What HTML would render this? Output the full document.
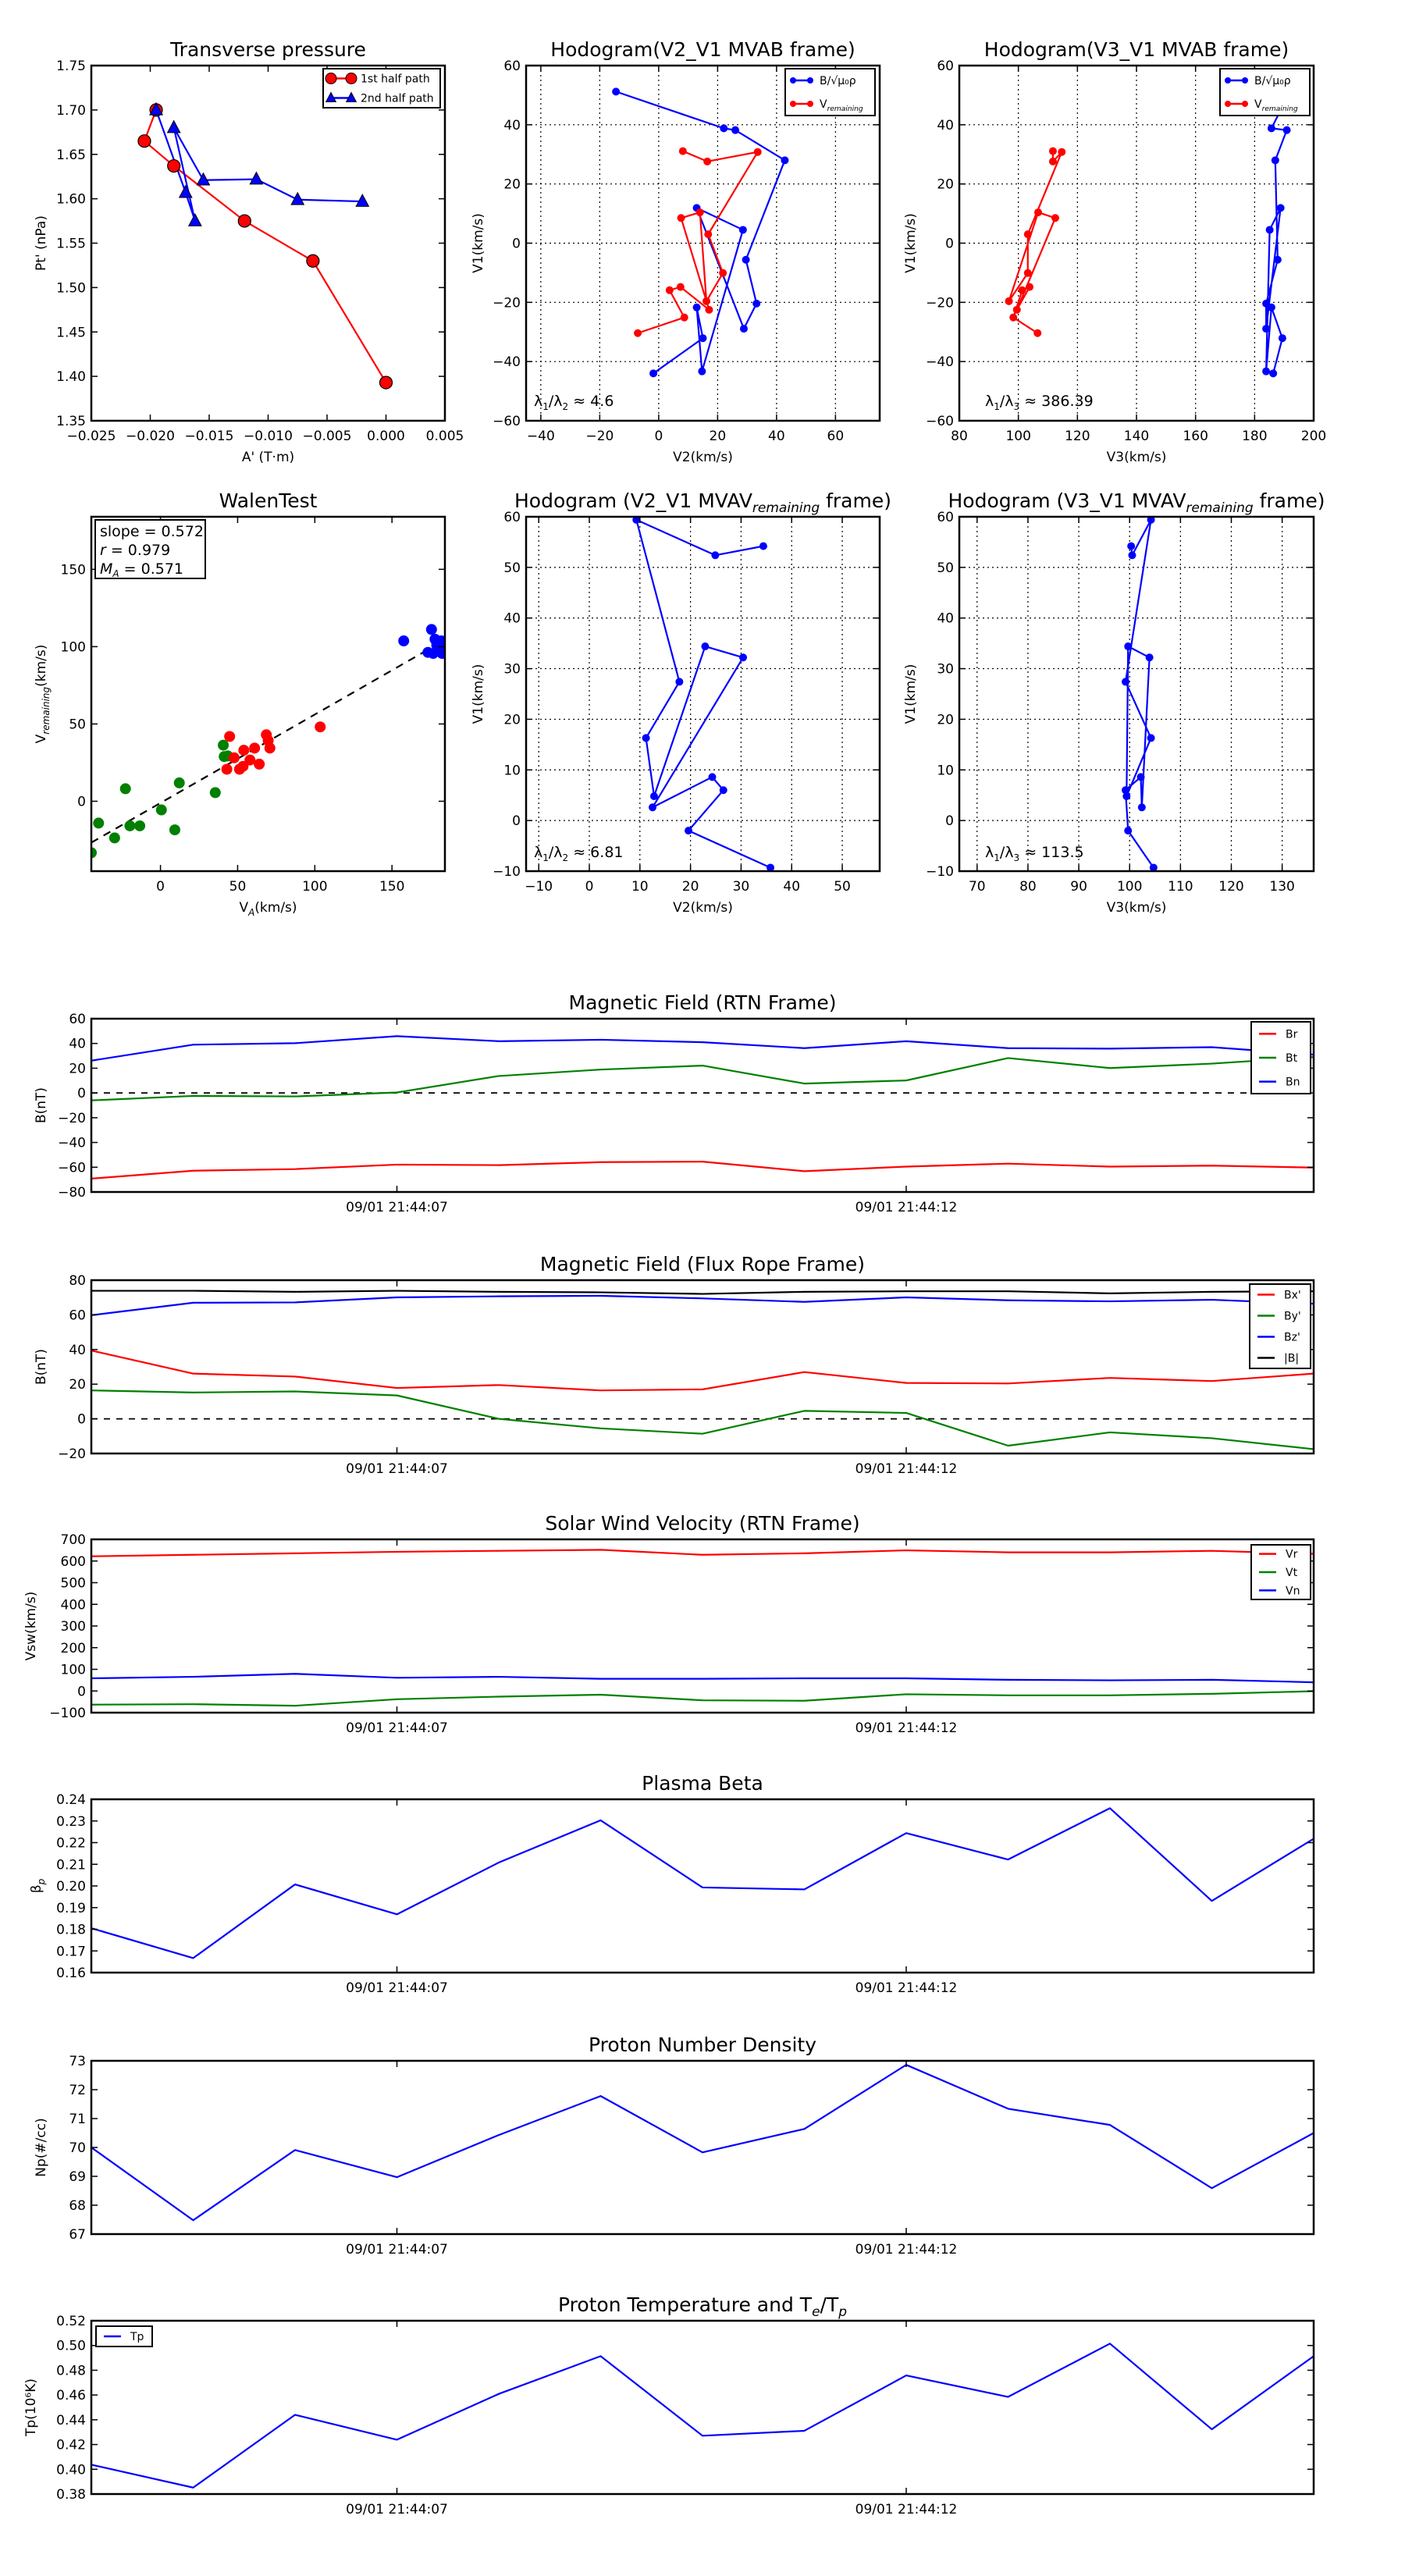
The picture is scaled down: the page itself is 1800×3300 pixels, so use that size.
<!DOCTYPE html>
<html><head><meta charset="utf-8">
<style>
html,body{margin:0;padding:0;background:#fff;}
svg{display:block;font-family:"DejaVu Sans","Liberation Sans",sans-serif;}
</style></head>
<body>
<svg id="fig" xmlns="http://www.w3.org/2000/svg" width="1800" height="3300" viewBox="0 0 1800 3300"></svg>
<script>
// ---------- DATA ----------
// Transverse pressure
const tpA1 = [-0.0195,-0.0205,-0.018,-0.012,-0.0062,0.0];
const tpP1 = [1.700,1.665,1.637,1.575,1.530,1.393];
const tpA2 = [-0.0195,-0.017,-0.0162,-0.018,-0.0155,-0.011,-0.0075,-0.002];
const tpP2 = [1.700,1.607,1.575,1.680,1.621,1.622,1.599,1.597];
// Hodogram MVAB (B)
const hbV1 = [51.2,38.8,38.2,28,-5.6,-20.4,-28.9,11.9,4.5,-43.3,-21.7,-32.1,-44];
const hbV2 = [-14.5,22.1,26,42.8,29.6,33.2,28.9,12.9,28.6,14.7,12.9,15,-1.8];
const hbV3 = [192,185.7,190.9,187,187.8,183.9,183.9,188.8,185.1,183.9,185.7,189.4,186.3];
// Hodogram MVAB (V remaining)
const hvV1 = [31.1,27.6,30.8,3,-10.1,-19.6,10.4,8.5,-22.5,-14.8,-15.9,-25.1,-30.4];
const hvV2 = [8.2,16.5,33.6,16.8,21.8,16.2,14,7.6,17.1,7.4,3.7,8.7,-7.1];
const hvV3 = [111.7,111.7,114.7,103.2,103.2,96.8,106.7,112.5,99.5,103.8,101.3,98.3,106.5];
// Hodogram MVAV remaining
const hrV1 = [54.2,52.4,59.4,27.4,16.3,4.8,34.4,32.2,2.6,8.6,6,-2,-9.3];
const hrV2 = [34.4,24.9,9.3,17.8,11.2,12.8,22.9,30.4,12.5,24.3,26.5,19.6,35.8];
const hrV3 = [100.3,100.5,104.2,99.2,104.2,99.4,99.7,103.9,102.4,102.2,99.2,99.7,104.7];
// Walen test
const wgX = [-40.1,-29.7,-22.7,-19.8,-13.4,0.6,9.3,12.2,35.5,40.7,41.3,43.6,-44.8];
const wgY = [-14.1,-23.7,8.1,-15.9,-15.9,-5.6,-18.5,11.9,5.6,36.3,28.9,29.3,-33.3];
const wrX = [44.8,43,47.7,51.2,53.5,54,58,61,64,68.6,69.8,70.9,103.5];
const wrY = [41.9,20.7,28.1,20.7,22.6,33,26.7,34.4,24,43,39.3,34.4,48.1];
const wbX = [157.6,175.6,173.3,177.9,180.2,176.7,182,182.5,179,181.3];
const wbY = [103.7,111.1,96.3,104.8,99.3,95.6,103.7,95.6,101,98];
const walenSlope = 0.572, walenIntercept = -1.1;
// Time series (1 s cadence, 13 samples)
const timeTickIdx = [3,8];
const timeTickLabels = ["09/01 21:44:07","09/01 21:44:12"];
const Br = [-69.2,-62.8,-61.5,-57.9,-58.3,-55.9,-55.5,-63.2,-59.5,-57.1,-59.5,-58.7,-60.3];
const Bt = [-6,-2.4,-2.8,0.4,13.7,18.9,22.1,7.6,10.1,28.2,20.1,23.7,29];
const Bn = [26.1,39,40.2,45.9,41.8,43,41,36.2,41.8,36.2,35.8,37,31];
const Bx = [39.4,26.1,24.4,17.8,19.5,16.4,17,27,20.7,20.4,23.6,21.8,26.1];
const By = [16.4,15.2,15.8,13.5,0,-5.5,-8.6,4.6,3.4,-15.5,-7.8,-11.2,-17.5];
const Bz = [59.8,67,67.2,70.1,70.7,71,69.5,67.5,70.1,68.4,67.8,68.7,66.4];
const Bmag = [73.9,73.9,73.3,73.9,73.3,73,72.1,73.3,73.6,73.6,72.4,73.3,73.6];
const Vr = [621.8,628.7,635.6,642.5,647.1,651.7,628.7,635.6,649.4,640.2,640.2,647.1,633.3];
const Vt = [-63,-61,-68,-38,-26,-17,-43,-45,-15,-20,-20,-13,-1];
const Vn = [58.6,65.5,79.3,61,65.5,56.3,56.3,58.6,58.6,51.7,49.4,51.7,40.2];
const beta = [0.1805,0.1667,0.2007,0.1869,0.2108,0.2303,0.1993,0.1984,0.2244,0.2122,0.2359,0.1931,0.2218];
const Np = [70.0,67.48,69.91,68.97,70.43,71.78,69.83,70.64,72.86,71.34,70.78,68.59,70.5];
const Tp = [0.4037,0.3852,0.444,0.4239,0.4609,0.4914,0.4271,0.4311,0.4758,0.4585,0.5015,0.4323,0.4914];

// ---------- HELPERS ----------
const NS="http://www.w3.org/2000/svg";
const fig=document.getElementById('fig');
function el(tag,attrs,parent,txt){const e=document.createElementNS(NS,tag);for(const k in attrs)e.setAttribute(k,attrs[k]);if(txt!==undefined)e.textContent=txt;(parent||fig).appendChild(e);return e;}
function fmt(v,d){const s=Math.abs(v).toFixed(d);return (v<0&&Math.abs(v)>1e-12?"\u2212":"")+s;}
function range(a,b,s){const r=[];for(let v=a;v<=b+s*1e-6;v+=s)r.push(Math.round(v/s)*s);return r;}

function axes(o){
  const g=el('g',{});  
  const sx=v=>o.x0+(v-o.xd[0])/(o.xd[1]-o.xd[0])*(o.x1-o.x0);
  const sy=v=>o.y1-(v-o.yd[0])/(o.yd[1]-o.yd[0])*(o.y1-o.y0);
  const clipId='c'+o.name;
  const cp=el('clipPath',{id:clipId},g); el('rect',{x:o.x0,y:o.y0,width:o.x1-o.x0,height:o.y1-o.y0},cp);
  const plot=el('g',{'clip-path':'url(#'+clipId+')'},g);
   
  // grid
  if(o.grid){
    const gg=el('g',{stroke:'#000','stroke-width':1.2,'stroke-dasharray':'2,4'},plot);
     
    o.xt.forEach(v=>el('line',{x1:sx(v),x2:sx(v),y1:o.y0,y2:o.y1},gg));
    o.yt.forEach(v=>el('line',{x1:o.x0,x2:o.x1,y1:sy(v),y2:sy(v)},gg));
  }
  // ticks
  const tg=el('g',{stroke:'#000','stroke-width':1.5},g);
  const xtl=el('g',{'font-size':17,'text-anchor':'middle',fill:'#000'},g);
   
  o.xt.forEach((v,i)=>{const x=sx(v);
    el('line',{x1:x,x2:x,y1:o.y1,y2:o.y1-8},tg);el('line',{x1:x,x2:x,y1:o.y0,y2:o.y0+8},tg);
    el('text',{x:x,y:o.y1+25},xtl,o.xl?o.xl[i]:fmt(v,o.xdec||0));});
  const ytl=el('g',{'font-size':17,'text-anchor':'end',fill:'#000'},g);
   
  o.yt.forEach(v=>{const y=sy(v);
    el('line',{x1:o.x0,x2:o.x0+8,y1:y,y2:y},tg);el('line',{x1:o.x1,x2:o.x1-8,y1:y,y2:y},tg);
    el('text',{x:o.x0-7,y:y+6},ytl,fmt(v,o.ydec||0));});
  // frame
  const fr=el('rect',{x:o.x0,y:o.y0,width:o.x1-o.x0,height:o.y1-o.y0,fill:'none',stroke:'#000','stroke-width':2.5},g);
   
  // title
  if(o.title){const t=el('text',{x:(o.x0+o.x1)/2,y:o.y0-12,'font-size':25,'text-anchor':'middle'},g);
     
    o.title.forEach(p=>{const ts=el('tspan',p.sub?{'font-size':17,'font-style':'italic',dy:6}:(p.after?{dy:-6}:{}),t,p.t);});}
  if(o.xlabel){const t=el('text',{x:(o.x0+o.x1)/2,y:o.y1+52,'font-size':17,'text-anchor':'middle'},g);
     
    o.xlabel.forEach(p=>el('tspan',p.sub?{'font-size':12,'font-style':'italic',dy:5}:(p.after?{dy:-5}:{}),t,p.t));}
  if(o.ylabel){const t=el('text',{x:0,y:0,'font-size':17,'text-anchor':'middle',transform:`translate(${o.ylx},${(o.y0+o.y1)/2}) rotate(-90)`},g);
     
    o.ylabel.forEach(p=>el('tspan',p.sub?{'font-size':12,'font-style':'italic',dy:5}:(p.after?{dy:-5}:{}),t,p.t));}
  return {g,plot,sx,sy};
}
function line(ax,xs,ys,color,name,w){
  const p=el('polyline',{points:xs.map((x,i)=>ax.sx(x)+','+ax.sy(ys[i])).join(' '),fill:'none',stroke:color,'stroke-width':w||2.2,'stroke-linejoin':'round'},ax.plot);
    return p;
}
function dots(ax,xs,ys,color,name,r,edge){
  const g=el('g',{fill:color},ax.plot);
   
  xs.forEach((x,i)=>{const c=el('circle',{cx:ax.sx(x),cy:ax.sy(ys[i]),r:r},g);if(edge){c.setAttribute('stroke',edge);c.setAttribute('stroke-width',1.2);}});
}
function tris(ax,xs,ys,color,name,r){
  const g=el('g',{fill:color,stroke:'#000','stroke-width':1},ax.plot);
   
  xs.forEach((x,i)=>{const cx=ax.sx(x),cy=ax.sy(ys[i]);el('polygon',{points:`${cx},${cy-r} ${cx-r*0.9},${cy+r*0.7} ${cx+r*0.9},${cy+r*0.7}`},g);});
}
function legend(x,y,w,h,items,fs,parent){
  const g=el('g',{},parent);
   
  el('rect',{x:x,y:y,width:w,height:h,fill:'#fff',stroke:'#000','stroke-width':2},g);
  const step=h/items.length;
  items.forEach((it,i)=>{const cy=y+step*(i+0.5);
    const eg=el('g',{},g);  
    el('line',{x1:x+10,x2:x+(it.lw||40),y1:cy,y2:cy,stroke:it.c,'stroke-width':2.5},eg);
    if(it.m==='o'){el('circle',{cx:x+10,cy:cy,r:it.r||4,fill:it.c,stroke:it.e||'none'},eg);el('circle',{cx:x+(it.lw||40),cy:cy,r:it.r||4,fill:it.c,stroke:it.e||'none'},eg);}
    if(it.m==='^'){const r=it.r;[x+10,x+(it.lw||40)].forEach(cx=>el('polygon',{points:`${cx},${cy-r} ${cx-r*0.9},${cy+r*0.7} ${cx+r*0.9},${cy+r*0.7}`,fill:it.c,stroke:'#000'},eg));}
    const t=el('text',{x:x+(it.lw||40)+12,y:cy+5,'font-size':fs},eg);
    it.t.forEach(p=>el('tspan',p.sub?{'font-size':fs*0.65,'font-style':'italic',dy:4}:(p.after?{dy:-4}:{}),t,p.t));
  });
}
function note(ax,x,y,parts,name){
  const t=el('text',{x:x,y:y,'font-size':19},ax.g);
   
  parts.forEach(p=>el('tspan',p.sub?{'font-size':12,dy:5}:(p.after?{dy:-5}:{}),t,p.t));
}

// ---------- ROW 1 ----------
const R1={y0:84,y1:539}, R2={y0:662,y1:1116};
const a1=axes({name:'transverse-pressure',x0:117,x1:570,...R1,xd:[-0.025,0.005],yd:[1.35,1.75],
  xt:range(-0.025,0.005,0.005),yt:range(1.35,1.75,0.05),xdec:3,ydec:2,
  title:[{t:'Transverse pressure'}],xlabel:[{t:"A' (T\u00b7m)"}],ylabel:[{t:"Pt' (nPa)"}],ylx:58});
line(a1,tpA1,tpP1,'#f00','first-half-line');
line(a1,tpA2,tpP2,'#00f','second-half-line');
dots(a1,tpA1,tpP1,'#f00','first-half-markers',8,'#000');
tris(a1,tpA2,tpP2,'#00f','second-half-markers',9);
legend(414,88,150,50,[{c:'#f00',m:'o',r:7,e:'#000',t:[{t:'1st half path'}],lw:36},{c:'#00f',m:'^',r:7,t:[{t:'2nd half path'}],lw:36}],14,a1.g);

const a2=axes({name:'hodogram-v2-v1-mvab',x0:674,x1:1127,...R1,xd:[-45,75],yd:[-60,60],
  xt:range(-40,60,20),yt:range(-60,60,20),grid:true,
  title:[{t:'Hodogram(V2_V1 MVAB frame)'}],xlabel:[{t:'V2(km/s)'}],ylabel:[{t:'V1(km/s)'}],ylx:618});
line(a2,hbV2,hbV1,'#00f','b-hodogram-line');dots(a2,hbV2,hbV1,'#00f','b-hodogram-points',5);
line(a2,hvV2,hvV1,'#f00','v-hodogram-line');dots(a2,hvV2,hvV1,'#f00','v-hodogram-points',5);
legend(1006,88,115,60,[{c:'#00f',m:'o',t:[{t:'B/\u221a\u03bc\u2080\u03c1'}],lw:32},{c:'#f00',m:'o',t:[{t:'V'},{t:'remaining',sub:true}],lw:32}],14,a2.g);
note(a2,684,520,[{t:'\u03bb'},{t:'1',sub:true},{t:'/\u03bb',after:true},{t:'2',sub:true},{t:' \u2248 4.6',after:true}],'eigen-ratio-label');

const a3=axes({name:'hodogram-v3-v1-mvab',x0:1229,x1:1683,...R1,xd:[80,200],yd:[-60,60],
  xt:range(80,200,20),yt:range(-60,60,20),grid:true,
  title:[{t:'Hodogram(V3_V1 MVAB frame)'}],xlabel:[{t:'V3(km/s)'}],ylabel:[{t:'V1(km/s)'}],ylx:1172});
line(a3,hbV3,hbV1,'#00f','b-hodogram-line');dots(a3,hbV3,hbV1,'#00f','b-hodogram-points',5);
line(a3,hvV3,hvV1,'#f00','v-hodogram-line');dots(a3,hvV3,hvV1,'#f00','v-hodogram-points',5);
legend(1563,88,115,60,[{c:'#00f',m:'o',t:[{t:'B/\u221a\u03bc\u2080\u03c1'}],lw:32},{c:'#f00',m:'o',t:[{t:'V'},{t:'remaining',sub:true}],lw:32}],14,a3.g);
note(a3,1262,520,[{t:'\u03bb'},{t:'1',sub:true},{t:'/\u03bb',after:true},{t:'3',sub:true},{t:' \u2248 386.39',after:true}],'eigen-ratio-label');

// ---------- ROW 2 ----------
const a4=axes({name:'walen-test',x0:117,x1:570,...R2,xd:[-44.8,184.3],yd:[-45.2,184],
  xt:[0,50,100,150],yt:[0,50,100,150],
  title:[{t:'WalenTest'}],xlabel:[{t:'V'},{t:'A',sub:true},{t:'(km/s)',after:true}],ylabel:[{t:'V'},{t:'remaining',sub:true},{t:'(km/s)',after:true}],ylx:58});
{const xs=[-44.8,184.3];const p=el('line',{x1:a4.sx(xs[0]),y1:a4.sy(walenIntercept+walenSlope*xs[0]),x2:a4.sx(xs[1]),y2:a4.sy(walenIntercept+walenSlope*xs[1]),stroke:'#000','stroke-width':2.2,'stroke-dasharray':'10,8'},a4.plot);
 }
dots(a4,wgX,wgY,'#008000','walen-green-points',7);
dots(a4,wrX,wrY,'#f00','walen-red-points',7);
dots(a4,wbX,wbY,'#00f','walen-blue-points',7);
{const g=el('g',{},a4.g);
 el('rect',{x:122,y:666,width:141,height:75,fill:'#fff',stroke:'#000','stroke-width':2},g);
 el('text',{x:128,y:687,'font-size':19},g,'slope = 0.572');
 const t2=el('text',{x:128,y:711,'font-size':19},g);el('tspan',{'font-style':'italic'},t2,'r');el('tspan',{},t2,' = 0.979');
 const t3=el('text',{x:128,y:735,'font-size':19},g);el('tspan',{'font-style':'italic'},t3,'M');el('tspan',{'font-size':12,'font-style':'italic',dy:4},t3,'A');el('tspan',{dy:-4},t3,' = 0.571');}

const a5=axes({name:'hodogram-v2-v1-mvav',x0:674,x1:1127,...R2,xd:[-12.5,57.4],yd:[-10,60],
  xt:range(-10,50,10),yt:range(-10,60,10),grid:true,
  title:[{t:'Hodogram (V2_V1 MVAV'},{t:'remaining',sub:true},{t:' frame)',after:true}],xlabel:[{t:'V2(km/s)'}],ylabel:[{t:'V1(km/s)'}],ylx:618});
line(a5,hrV2,hrV1,'#00f','hodogram-line');dots(a5,hrV2,hrV1,'#00f','hodogram-points',5);
note(a5,684,1098,[{t:'\u03bb'},{t:'1',sub:true},{t:'/\u03bb',after:true},{t:'2',sub:true},{t:' \u2248 6.81',after:true}],'eigen-ratio-label');

const a6=axes({name:'hodogram-v3-v1-mvav',x0:1229,x1:1683,...R2,xd:[66.5,136.2],yd:[-10,60],
  xt:range(70,130,10),yt:range(-10,60,10),grid:true,
  title:[{t:'Hodogram (V3_V1 MVAV'},{t:'remaining',sub:true},{t:' frame)',after:true}],xlabel:[{t:'V3(km/s)'}],ylabel:[{t:'V1(km/s)'}],ylx:1172});
line(a6,hrV3,hrV1,'#00f','hodogram-line');dots(a6,hrV3,hrV1,'#00f','hodogram-points',5);
note(a6,1262,1098,[{t:'\u03bb'},{t:'1',sub:true},{t:'/\u03bb',after:true},{t:'3',sub:true},{t:' \u2248 113.5',after:true}],'eigen-ratio-label');

// ---------- TIME SERIES ----------
const idx=Bt.map((_,i)=>i);
function ts(name,top,yd,step,dec,title,ylabel,ylx){
  return axes({name,x0:117,x1:1683,y0:top,y1:top+222,xd:[0,12],yd,xt:timeTickIdx,xl:timeTickLabels,
    yt:range(yd[0],yd[1],step),ydec:dec,title,ylabel,ylx});
}
function zero(ax,name){const p=el('line',{x1:ax.sx(0),x2:ax.sx(12),y1:ax.sy(0),y2:ax.sy(0),stroke:'#000','stroke-width':1.8,'stroke-dasharray':'8,8'},ax.plot);}

const t1=ts('magnetic-field-rtn',1305,[-80,60],20,0,[{t:'Magnetic Field (RTN Frame)'}],[{t:'B(nT)'}],58);
zero(t1,'zero-line');
line(t1,idx,Br,'#f00','br-line');line(t1,idx,Bt,'#008000','bt-line');line(t1,idx,Bn,'#00f','bn-line');
legend(1603,1309,76,92,[{c:'#f00',t:[{t:'Br'}],lw:32},{c:'#008000',t:[{t:'Bt'}],lw:32},{c:'#00f',t:[{t:'Bn'}],lw:32}],14,t1.g);

const t2=ts('magnetic-field-flux-rope',1640,[-20,80],20,0,[{t:'Magnetic Field (Flux Rope Frame)'}],[{t:'B(nT)'}],58);
zero(t2,'zero-line');
line(t2,idx,Bmag,'#000','bmag-line');line(t2,idx,Bx,'#f00','bx-line');line(t2,idx,By,'#008000','by-line');line(t2,idx,Bz,'#00f','bz-line');
legend(1601,1645,78,108,[{c:'#f00',t:[{t:"Bx'"}],lw:32},{c:'#008000',t:[{t:"By'"}],lw:32},{c:'#00f',t:[{t:"Bz'"}],lw:32},{c:'#000',t:[{t:'|B|'}],lw:32}],14,t2.g);

const t3=ts('solar-wind-velocity',1972,[-100,700],100,0,[{t:'Solar Wind Velocity (RTN Frame)'}],[{t:'Vsw(km/s)'}],45);
line(t3,idx,Vr,'#f00','vr-line');line(t3,idx,Vt,'#008000','vt-line');line(t3,idx,Vn,'#00f','vn-line');
legend(1603,1979,76,70,[{c:'#f00',t:[{t:'Vr'}],lw:32},{c:'#008000',t:[{t:'Vt'}],lw:32},{c:'#00f',t:[{t:'Vn'}],lw:32}],14,t3.g);

const t4=ts('plasma-beta',2305,[0.16,0.24],0.01,2,[{t:'Plasma Beta'}],[{t:'\u03b2'},{t:'p',sub:true}],52);
line(t4,idx,beta,'#00f','beta-line');

const t5=ts('proton-density',2640,[67,73],1,0,[{t:'Proton Number Density'}],[{t:'Np(#/cc)'}],58);
line(t5,idx,Np,'#00f','np-line');

const t6=ts('proton-temperature',2973,[0.38,0.52],0.02,2,[{t:'Proton Temperature and '},{t:'T',after:false},{t:'e',sub:true},{t:'/T',after:true},{t:'p',sub:true}],[{t:'Tp(10\u2076K)'}],45);
line(t6,idx,Tp,'#00f','tp-line');
legend(123,2980,72,26,[{c:'#00f',t:[{t:'Tp'}],lw:32}],14,t6.g);
</script>
</body></html>
